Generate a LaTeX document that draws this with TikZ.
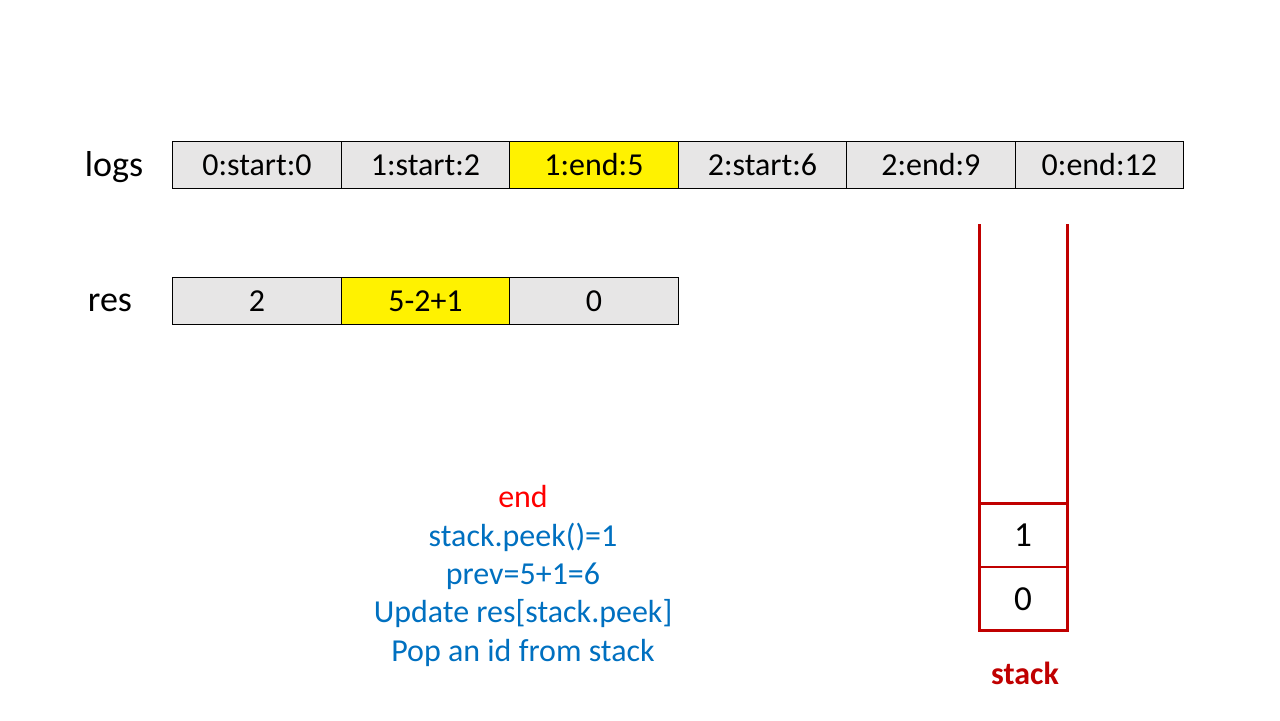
\documentclass[tikz,border=0pt]{standalone}
\usepackage{fontspec}
\setmainfont{Carlito}
\usetikzlibrary{positioning}
\definecolor{cellgray}{HTML}{E7E6E6}
\definecolor{stackred}{HTML}{C00000}
\definecolor{noteblue}{HTML}{0070C0}
\tikzset{
    cell/.style = {rectangle, draw=black, line width=0.6pt, outer sep=0pt, minimum width=3.37cm, minimum height=0.94cm, fill=cellgray, font=\fontsize{18.2}{22}\selectfont},
    cellh/.style = {cell, fill=yellow},
    slot/.style = {rectangle, draw=stackred, line width=1.7pt, outer sep=0pt, minimum width=1.76cm, minimum height=1.28cm, font=\fontsize{20}{24}\selectfont},
    rowlabel/.style = {font=\fontsize{20.5}{24}\selectfont},
    note/.style = {align=center, text=noteblue, font=\fontsize{18.2}{21.8}\selectfont},
    stacklabel/.style = {text=stackred, font=\fontsize{18.2}{22}\selectfont\bfseries}
}
\begin{document}
\begin{tikzpicture}[x=0.02cm,y=-0.02cm]
\useasboundingbox (0,0) rectangle (1280,720);
%
\node[rowlabel] at (114,167) (logs) {logs};
\node[cell] at (257,165) (l0) {0:start:0};
\node[cell, right=0pt of l0] (l1) {1:start:2};
\node[cellh, right=0pt of l1] (l2) {1:end:5};
\node[cell, right=0pt of l2] (l3) {2:start:6};
\node[cell, right=0pt of l3] (l4) {2:end:9};
\node[cell, right=0pt of l4] (l5) {0:end:12};
%
\node[rowlabel] at (110,303) (res) {res};
\node[cell] at (257,301) (r0) {2};
\node[cellh, right=0pt of r0] (r1) {5-2+1};
\node[cell, right=0pt of r1] (r2) {0};
%
\node[slot] at (1023,535) (s1) {1};
\node[slot, below=0pt of s1] (s0) {\raisebox{-7pt}{0}};
\draw[stackred, line width=1.7pt] (s1.north west) -- ++(0,-279);
\draw[stackred, line width=1.7pt] (s1.north east) -- ++(0,-279);
\node[stacklabel] at (1025,673) (stk) {stack};
%
\node[note] at (523,576) (msg) {\textcolor{red}{end}\\stack.peek()=1\\prev=5+1=6\\Update res[stack.peek]\\Pop an id from stack};

\end{tikzpicture}
\end{document}
